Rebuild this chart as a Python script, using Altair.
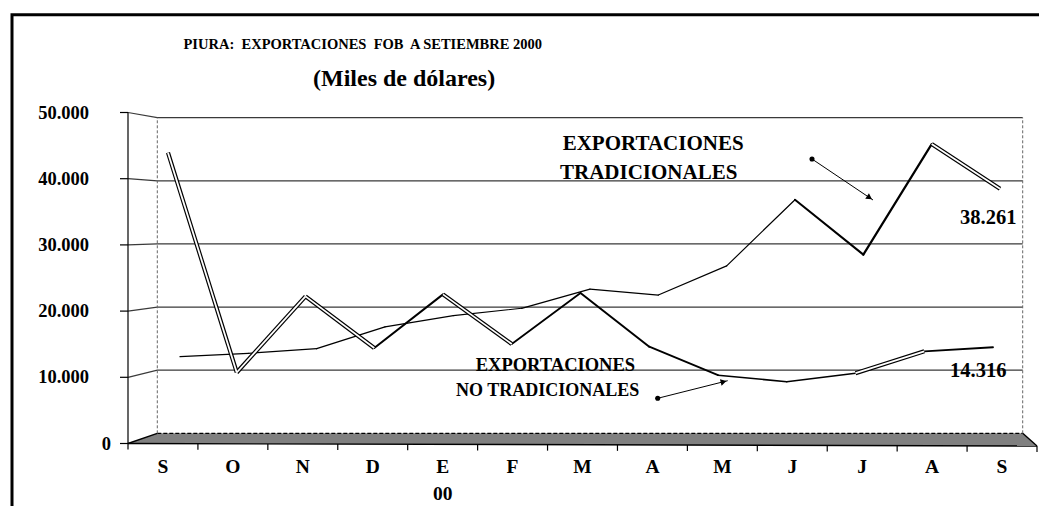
import altair as alt
import pandas as pd

# ---------------- data ----------------
months = ["S", "O", "N", "D", "E", "F", "M", "A", "M", "J", "J", "A", "S"]
year_label = "00"
year_index = 4
tradicionales = [12900, 13400, 14100, 17400, 19100, 20200, 23100, 22200, 26600, 36600, 28300, 45000, 38261]
no_tradicionales = [43700, 10500, 22000, 14200, 22300, 14800, 22500, 14400, 10100, 9100, 10400, 13700, 14316]
y_ticks = [0, 10000, 20000, 30000, 40000, 50000]
label_trad = "38.261"
label_notrad = "14.316"
title_text = "PIURA:\u00a0 EXPORTACIONES\u00a0 FOB\u00a0 A SETIEMBRE 2000"
subtitle_text = "(Miles de dólares)"
ann_trad = ["EXPORTACIONES", "TRADICIONALES"]
ann_notrad = ["EXPORTACIONES", "NO TRADICIONALES"]

# ---------------- layout ----------------
FONT = "Liberation Serif"
W, H = 909, 331
LEFT, TOP = 128.0, 112.5          # page position of plot origin
PXU = W / 13.0
PXV = H / 50000.0


def u_of(px):
    return (px - LEFT) / PXU


def v_of(py):
    return (TOP + H - py) / PXV


BL, BR = u_of(157.3), u_of(1022.7)   # back wall left / right


def back_v(t):
    return v_of(433.3 - t * 315.6 / 50000.0)


def edge(u):
    return v_of(443.5 + 2.5 * u / 13.0)


xs = alt.Scale(domain=[0, 13], nice=False, zero=False)
ys = alt.Scale(domain=[0, 50000], nice=False, zero=False)
X = lambda f="u": alt.X(f"{f}:Q", scale=xs, axis=None)
Y = lambda f="v": alt.Y(f"{f}:Q", scale=ys, axis=None)
BOLD = dict(font=FONT, fontWeight="bold", color="black")

# ---- value axis (front) ----
yt_df = pd.DataFrame({"v": y_ticks,
                      "lab": [f"{t:,}".replace(",", ".") for t in y_ticks]})
y_domain = alt.Chart(pd.DataFrame({"v": [y_ticks[0]], "v2": [y_ticks[-1]]})).mark_rule(
    color="black", strokeWidth=1.2).encode(x=alt.value(0), y=Y(), y2="v2:Q")
y_tickmarks = alt.Chart(yt_df).mark_rule(color="black", strokeWidth=1.2).encode(
    x=alt.value(-8), x2=alt.value(0), y=Y())
y_labels = alt.Chart(yt_df[yt_df.v != 0]).mark_text(
    fontSize=18.5, align="right", baseline="middle", **BOLD).encode(
    x=alt.value(89 - LEFT), y=Y(), text="lab:N")
y_zero = alt.Chart(yt_df[yt_df.v == 0]).mark_text(
    fontSize=18.5, align="right", baseline="middle", **BOLD).encode(
    x=alt.value(111 - LEFT), y=Y(), text="lab:N")

# ---- category labels ----
m_df = pd.DataFrame({"u": [i + 0.5 for i in range(len(months))], "lab": months})
x_labels = alt.Chart(m_df).mark_text(fontSize=19.5, align="center", baseline="top", **BOLD).encode(
    x=X(), y=alt.value(H + 14.5), text="lab:N")
yr_df = pd.DataFrame({"u": [year_index + 0.5], "lab": [year_label]})
x_year = alt.Chart(yr_df).mark_text(fontSize=19.5, align="center", baseline="top", **BOLD).encode(
    x=X(), y=alt.value(H + 41.5), text="lab:N")

# gridlines (front tick -> back wall -> across)
grid_rows = []
for t in y_ticks[1:]:
    grid_rows += [dict(t=t, o=0, u=0.0, v=t), dict(t=t, o=1, u=BL, v=back_v(t)),
                  dict(t=t, o=2, u=BR, v=back_v(t))]
grid_df = pd.DataFrame(grid_rows)
grid = alt.Chart(grid_df).mark_line(color="#3a3a3a", strokeWidth=1.2).encode(
    x=X(), y=Y(), detail="t:N", order="o:Q")

# floor
floor_df = pd.DataFrame([
    dict(u=0.0, v=edge(0.0), v2=edge(0.0)),
    dict(u=BL, v=edge(BL), v2=back_v(0)),
    dict(u=BR, v=edge(BR), v2=back_v(0)),
    dict(u=13.0, v=edge(13.0), v2=edge(13.0)),
])
floor = alt.Chart(floor_df).mark_area(color="#808080", opacity=1, orient="vertical").encode(
    x=X(), y=Y(), y2="v2:Q")

solid_df = pd.DataFrame([
    dict(s="front", o=0, u=0.0, v=edge(0.0)), dict(s="front", o=1, u=13.0, v=edge(13.0)),
    dict(s="left", o=0, u=0.0, v=edge(0.0)), dict(s="left", o=1, u=BL, v=back_v(0)),
    dict(s="right", o=0, u=BR, v=back_v(0)), dict(s="right", o=1, u=13.0, v=edge(13.0)),
])
floor_solid = alt.Chart(solid_df).mark_line(color="black", strokeWidth=1.4).encode(
    x=X(), y=Y(), detail="s:N", order="o:Q")
dash_df = pd.DataFrame([dict(u=BL, v=back_v(0)), dict(u=BR, v=back_v(0))])
floor_dash = alt.Chart(dash_df).mark_line(color="black", strokeWidth=1.2, strokeDash=[4, 2]).encode(
    x=X(), y=Y())

walls_df = pd.DataFrame([dict(u=BL, v=back_v(0), v2=back_v(50000)),
                         dict(u=BR, v=back_v(0), v2=back_v(50000))])
walls = alt.Chart(walls_df).mark_rule(color="#666", strokeWidth=1, strokeDash=[3, 2]).encode(
    x=X(), y=Y(), y2="v2:Q")

ticks_df = pd.DataFrame([dict(u=float(i), v=edge(i), v2=edge(i) - 6 / PXV) for i in range(14)])
xticks = alt.Chart(ticks_df).mark_rule(color="black", strokeWidth=1.2).encode(
    x=X(), y=Y(), y2="v2:Q")

# data series drawn segment by segment (3D ribbon look)
# per-segment style: stroke width, or "d" for a ribbon seen from above (double line)
seg_style_trad = [1.2, 1.2, 1.4, 1.3, 1.2, 1.3, 1.2, 1.2, 1.2, 2.0, 2.2, "d"]
seg_style_notrad = ["d", "d", "d", 2.0, "d", 1.8, 2.0, 1.8, 1.5, 1.5, "d", 1.8]


def segments(vals, px0, px1, styles, name):
    n = len(vals)
    us = [u_of(px0 + k * (px1 - px0) / (n - 1)) for k in range(n)]
    rows = []
    for k in range(n - 1):
        st = styles[k]
        for j, o in ((k, 0), (k + 1, 1)):
            rows.append(dict(seg=f"{name}{k}", o=o, u=us[j], v=vals[j],
                             w=(1.2 if st == "d" else st), dbl=(st == "d")))
    return pd.DataFrame(rows)


seg_df = pd.concat([segments(tradicionales, 180, 1000, seg_style_trad, "t"),
                    segments(no_tradicionales, 168, 993, seg_style_notrad, "n")])
dbl_df = seg_df[seg_df.dbl]
lines_single = alt.Chart(seg_df[~seg_df.dbl]).mark_line(color="black", yOffset=-1.5,
                                                       strokeCap="round").encode(
    x=X(), y=Y(), detail="seg:N", order="o:Q",
    strokeWidth=alt.StrokeWidth("w:Q", scale=None, legend=None))
lines_dbl_outer = alt.Chart(dbl_df).mark_line(color="black", strokeWidth=4.2, yOffset=-1.5).encode(
    x=X(), y=Y(), detail="seg:N", order="o:Q")
lines_dbl_inner = alt.Chart(dbl_df).mark_line(color="white", strokeWidth=1.8, yOffset=-1.5).encode(
    x=X(), y=Y(), detail="seg:N", order="o:Q")

# annotations
ann_df = pd.DataFrame([
    dict(text=ann_trad[0], u=u_of(562.7), v=v_of(150.0), fs=21),
    dict(text=ann_trad[1], u=u_of(560.0), v=v_of(178.5), fs=21),
    dict(text=ann_notrad[0], u=u_of(475.7), v=v_of(370.5), fs=18.5),
    dict(text=ann_notrad[1], u=u_of(456.0), v=v_of(395.5), fs=18),
    dict(text=label_trad, u=u_of(960.0), v=v_of(224.0), fs=20.5),
    dict(text=label_notrad, u=u_of(950.0), v=v_of(376.5), fs=20.5),
])
ann = alt.Chart(ann_df).mark_text(align="left", baseline="alphabetic", **BOLD).encode(
    x=X(), y=Y(), text="text:N", size=alt.Size("fs:Q", scale=None, legend=None))

arrow_df = pd.DataFrame([
    dict(a="t", o=0, u=u_of(812), v=v_of(159)), dict(a="t", o=1, u=u_of(873), v=v_of(200)),
    dict(a="n", o=0, u=u_of(657.7), v=v_of(398.3)), dict(a="n", o=1, u=u_of(727.7), v=v_of(380.7)),
])
arrow_lines = alt.Chart(arrow_df).mark_line(color="black", strokeWidth=1).encode(
    x=X(), y=Y(), detail="a:N", order="o:Q")
arrow_dots = alt.Chart(arrow_df[arrow_df.o == 0]).mark_point(
    shape="circle", filled=True, color="black", size=26, opacity=1).encode(x=X(), y=Y())
head_t = alt.Chart(pd.DataFrame([dict(u=u_of(869.5), v=v_of(197.6))])).mark_point(
    shape="triangle-up", filled=True, color="black", size=45, opacity=1, angle=124).encode(x=X(), y=Y())
head_n = alt.Chart(pd.DataFrame([dict(u=u_of(723.6), v=v_of(381.7))])).mark_point(
    shape="triangle-up", filled=True, color="black", size=45, opacity=1, angle=76).encode(x=X(), y=Y())

# titles and frame
dummy = pd.DataFrame({"k": [0]})
title = alt.Chart(dummy).mark_text(fontSize=14.5, align="left", baseline="alphabetic",
                                   text=title_text, **BOLD).encode(
    x=alt.value(183.5 - LEFT), y=alt.value(49 - TOP))
subtitle = alt.Chart(dummy).mark_text(fontSize=24, align="left", baseline="alphabetic",
                                      text=subtitle_text, **BOLD).encode(
    x=alt.value(313 - LEFT), y=alt.value(86 - TOP))
frame = alt.Chart(dummy).mark_rect(fillOpacity=0, stroke="black", strokeWidth=3).encode(
    x=alt.value(12 - LEFT), x2=alt.value(1300), y=alt.value(14.7 - TOP), y2=alt.value(700))

chart = alt.layer(
    grid, floor, floor_solid, floor_dash, walls, xticks,
    y_domain, y_tickmarks, y_labels, y_zero, x_labels, x_year,
    lines_single, lines_dbl_outer, lines_dbl_inner,
    ann, arrow_lines, arrow_dots, head_t, head_n, title, subtitle, frame,
).properties(
    width=W, height=H,
    padding={"left": LEFT - 8, "top": TOP - 8, "right": 2, "bottom": 514 - 16 - (TOP - 8) - H},
    autosize=alt.AutoSizeParams(type="none"),
    background="white",
).configure_view(strokeWidth=0)

chart.save("out.html", embed_options={"renderer": "svg", "actions": False})
